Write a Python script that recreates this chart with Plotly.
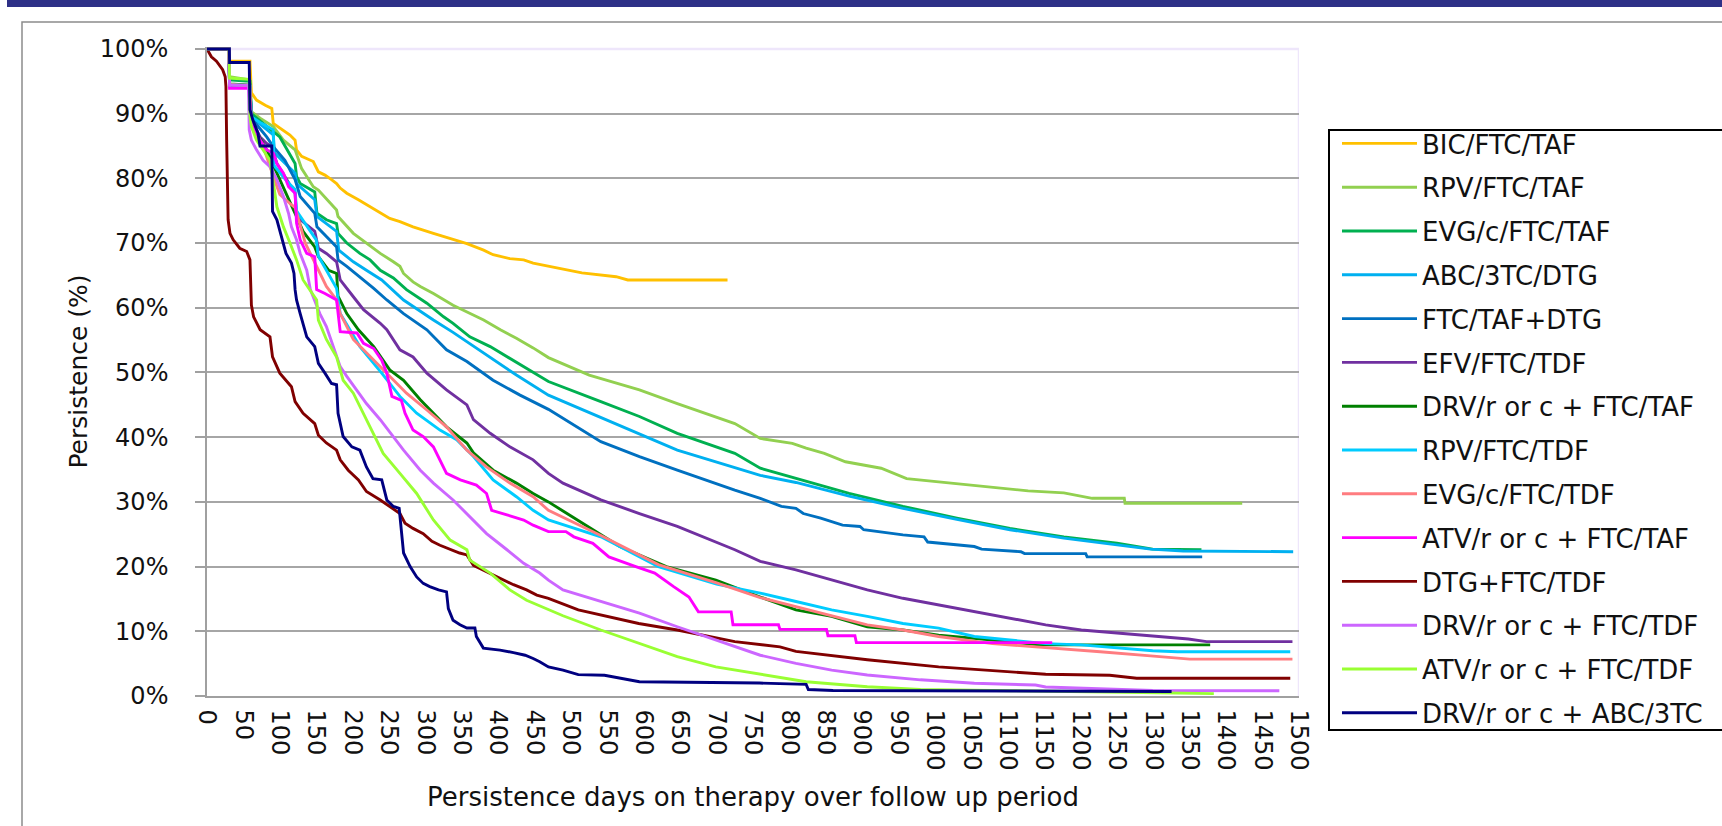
import plotly.graph_objects as go

# ---------------- data (day, persistence %) ----------------
series_names = [
    "BIC/FTC/TAF", "RPV/FTC/TAF", "EVG/c/FTC/TAF", "ABC/3TC/DTG", "FTC/TAF+DTG",
    "EFV/FTC/TDF", "DRV/r or c + FTC/TAF", "RPV/FTC/TDF", "EVG/c/FTC/TDF",
    "ATV/r or c + FTC/TAF", "DTG+FTC/TDF", "DRV/r or c + FTC/TDF",
    "ATV/r or c + FTC/TDF", "DRV/r or c + ABC/3TC",
]

bic_ftc_taf = [(0,100),(30,100),(31,98.1),(59,98.1),(61,93.2),(68,92.1),(80,91.3),(89,90.8),(91,88.5),
    (103,87.5),(114,86.7),(121,85.9),(123,84.4),(130,83.4),(146,82.6),(153,81.0),(162,80.5),(171,79.8),
    (178,79.2),(183,78.5),(192,77.7),(208,76.7),(224,75.6),(240,74.6),(251,73.8),(265,73.3),(283,72.5),
    (311,71.5),(338,70.5),(357,69.9),(380,68.9),(393,68.2),(416,67.6),(435,67.4),(448,66.9),(471,66.4),
    (515,65.4),(562,64.8),(578,64.3),(715,64.3)]

rpv_ftc_taf = [(0,100),(30,100),(31,95.7),(59,95.2),(61,90.3),(73,89.3),(91,88.0),(105,85.9),(121,84.4),
    (130,81.5),(146,78.7),(153,78.2),(178,75.1),(180,74.1),(201,71.5),(219,70.0),(238,68.4),(256,67.1),
    (265,66.4),(270,65.3),(283,64.0),(293,63.3),(311,62.2),(338,60.4),(357,59.4),(380,58.1),(403,56.6),
    (425,55.3),(448,53.8),(469,52.3),(525,49.6),(594,47.3),(646,45.2),(725,42.1),(760,39.8),(804,39.05),
    (823,38.3),(848,37.5),(877,36.2),(926,35.2),(961,33.6),(1005,33.1),(1054,32.5),(1128,31.7),
    (1177,31.4),(1216,30.55),(1260,30.55),(1261,29.8),(1422,29.8)]

evg_ftc_taf = [(0,100),(30,100),(31,95.2),(59,95.0),(61,90.0),(82,88.0),(100,86.4),(121,82.3),(123,80.3),
    (128,79.2),(148,77.9),(151,74.6),(164,73.6),(178,73.0),(180,71.5),(192,70.0),(210,68.4),(224,67.4),
    (238,65.8),(256,64.6),(274,62.8),(302,60.7),(325,58.6),(338,57.6),(361,55.5),(389,54.0),(416,52.2),
    (439,50.7),(469,48.6),(541,45.5),(594,43.2),(646,40.6),(725,37.5),(760,35.2),(809,33.6),(882,31.3),
    (956,29.3),(1030,27.5),(1103,25.9),(1177,24.6),(1250,23.6),(1299,22.7),(1366,22.6)]

abc_3tc_dtg = [(0,100),(30,100),(31,94.5),(59,94.3),(61,89.5),(82,87.5),(91,86.7),(93,83.9),(121,80.8),
    (123,79.2),(148,76.7),(151,74.1),(178,71.8),(181,68.9),(201,67.1),(219,65.8),(240,64.3),(270,61.2),
    (311,58.1),(338,56.2),(380,53.0),(425,49.6),(469,46.5),(541,43.0),(646,38.0),(760,34.1),(809,33.0),
    (882,30.9),(956,29.0),(1030,27.3),(1103,25.7),(1177,24.4),(1250,23.3),(1296,22.7),(1341,22.4),
    (1492,22.3)]

ftc_taf_dtg = [(0,100),(30,100),(31,94.3),(59,94.1),(61,89.3),(82,86.4),(91,84.9),(107,82.8),(121,79.8),
    (128,77.2),(148,74.6),(151,72.5),(178,69.4),(180,67.4),(192,66.4),(210,64.8),(229,63.0),(247,61.2),
    (270,59.1),(302,56.6),(329,53.5),(357,51.7),(393,48.8),(430,46.5),(469,44.3),(541,39.3),(594,37.0),
    (646,34.9),(725,31.8),(760,30.55),(789,29.3),(809,29.0),(819,28.2),(843,27.5),(873,26.4),(897,26.2),
    (902,25.7),(956,24.9),(985,24.6),(990,23.8),(1054,23.1),(1064,22.7),(1118,22.3),(1123,22.0),
    (1207,22.0),(1209,21.5),(1367,21.5)]

efv_ftc_tdf = [(0,100),(30,100),(31,94.3),(59,94.1),(61,89.0),(73,86.4),(82,85.4),(89,84.9),(96,82.3),
    (109,79.8),(121,77.7),(123,74.1),(132,73.3),(148,71.8),(153,69.2),(164,68.4),(178,67.1),(183,64.3),
    (201,61.7),(215,59.7),(238,57.6),(247,56.6),(265,53.5),(283,52.4),(302,49.9),(329,47.3),(357,45.0),
    (366,42.7),(389,40.6),(416,38.5),(448,36.5),(469,34.4),(489,32.9),(541,30.3),(594,28.2),(646,26.2),
    (725,22.6),(760,20.8),(809,19.5),(858,17.9),(907,16.4),(956,15.1),(1005,14.1),(1054,13.0),
    (1103,12.0),(1152,11.0),(1201,10.2),(1250,9.7),(1299,9.2),(1348,8.8),(1373,8.4),(1491,8.4)]

drv_ftc_taf = [(0,100),(30,100),(31,94.6),(59,94.4),(61,88.5),(82,84.4),(96,80.8),(109,77.7),(123,74.1),
    (132,71.8),(148,69.4),(153,67.9),(167,65.8),(178,65.3),(180,61.8),(192,59.1),(208,56.6),(229,54.0),
    (251,50.4),(270,48.8),(293,45.8),(311,43.7),(329,41.6),(357,39.1),(366,37.6),(393,34.9),(425,32.9),
    (448,31.3),(469,30.0),(489,28.6),(567,23.1),(631,20.0),(699,17.9),(760,15.3),(809,13.3),(858,12.3),
    (907,10.7),(956,10.2),(1005,9.4),(1079,8.65),(1143,7.9),(1201,7.9),(1378,7.9)]

rpv_ftc_tdf = [(0,100),(30,100),(31,94.5),(59,94.3),(61,89.5),(75,88.5),(91,87.5),(92,82.0),(110,79.5),
    (121,78.3),(123,75.0),(150,70.5),(153,68.0),(165,65.5),(178,63.0),(183,59.1),(210,54.0),(240,49.9),
    (265,46.3),(288,43.7),(320,41.1),(343,39.6),(366,37.0),(393,33.4),(425,30.8),(448,28.7),(469,27.2),
    (541,24.6),(620,20.0),(700,17.3),(760,15.9),(809,14.6),(858,13.3),(907,12.3),(956,11.2),(1005,10.5),
    (1054,9.2),(1103,8.65),(1152,8.1),(1201,7.9),(1250,7.4),(1299,7.0),(1333,6.85),(1488,6.85)]

evg_ftc_tdf = [(0,100),(30,100),(31,94.5),(59,94.3),(61,88.0),(80,84.0),(92,80.0),(100,77.5),(115,76.0),
    (121,75.5),(135,70.0),(150,66.5),(164,63.3),(178,61.2),(183,59.1),(201,55.1),(229,51.9),(251,49.4),
    (274,46.8),(302,44.2),(329,41.6),(357,38.0),(384,35.4),(416,32.9),(448,30.8),(469,28.7),(541,24.8),
    (620,20.3),(700,17.5),(760,15.2),(809,13.8),(858,12.3),(907,11.0),(956,10.2),(1005,9.2),(1079,8.1),
    (1152,7.5),(1227,6.85),(1296,6.2),(1350,5.7),(1491,5.7)]

atv_ftc_taf = [(0,100),(30,100),(31,93.9),(57,93.9),(61,89.0),(73,85.9),(82,84.4),(91,83.9),(96,82.3),
    (105,80.8),(112,78.7),(121,77.7),(123,73.1),(128,70.5),(137,68.4),(148,67.9),(150.6,62.8),(162,62.2),
    (178,61.2),(180,59.1),(183,56.3),(206,56.1),(215,54.5),(229,53.7),(240,51.9),(247,49.9),(254,46.3),
    (267,45.7),(272,43.7),(283,41.1),(297,40.1),(311,38.5),(320,36.5),(329,34.4),(348,33.4),(370,32.6),
    (384,31.3),(391,28.7),(412,28.0),(435,27.2),(448,26.4),(469,25.4),(493,25.4),(504,24.6),(530,23.6),
    (552,21.5),(589,20.0),(615,19.0),(641,16.9),(662,15.3),(675,13.0),(720,13.0),(722.5,11.0),(785,11.0),
    (787,10.3),(851,10.3),(853,9.3),(890,9.3),(892,8.25),(1161,8.25)]

dtg_ftc_tdf = [(0,100),(6,98.8),(13,98.1),(18,97.3),(21.5,96.8),(25,95.7),(26,94.2),(27,85.9),(29,73.6),
    (31.6,71.5),(36,70.5),(45,69.2),(54.5,68.7),(59,67.4),(60,62.8),(61,60.4),(64,58.6),(73,56.6),
    (86.5,55.5),(90,52.4),(100,49.9),(116,47.8),(121,45.5),(132,43.7),(148,42.1),(153,40.3),(164,39.1),
    (178,38.0),(183,36.5),(194,34.9),(208,33.4),(219,31.6),(238,30.3),(251,29.3),(265,28.2),(272,26.7),
    (283,25.9),(297,25.1),(309,23.9),(320,23.3),(331,22.8),(347,22.1),(357,21.8),(366,20.2),(384,19.2),
    (402,18.2),(421,17.2),(439,16.4),(453,15.6),(469,15.1),(510,13.3),(593,11.2),(646,10.2),(725,8.4),
    (787,7.6),(809,6.9),(907,5.6),(1005,4.5),(1103,3.75),(1152,3.35),(1240,3.2),(1259,3.0),(1277,2.75),
    (1488,2.75)]

drv_ftc_tdf = [(0,100),(30,100),(31,94.4),(57,94.4),(58,87.5),(61,85.9),(68,84.4),(77,82.8),(86.5,81.8),
    (96,79.8),(105,77.2),(112,74.6),(116,72.5),(123,70.5),(128,68.4),(137,65.8),(142,62.8),(155,59.1),
    (164,57.1),(173.5,54.0),(183,50.9),(192,49.4),(206,47.3),(219,45.2),(238,42.7),(256,40.1),(270,38.0),
    (293,34.9),(311,32.9),(338,30.3),(357,28.2),(384,25.1),(412,22.6),(435,20.5),(457,19.0),(469,17.9),
    (489,16.4),(541,14.6),(594,12.8),(646,10.7),(725,7.6),(760,6.3),(809,5.05),(858,4.0),(907,3.25),
    (980,2.5),(1054,1.96),(1138,1.7),(1152,1.4),(1226,1.1),(1299,0.85),(1473,0.82)]

atv_ftc_tdf = [(0,100),(30,100),(31,95.5),(58,95.3),(59,89.5),(61,88.0),(68,85.9),(80,83.9),(86.5,82.8),
    (96,75.6),(105,72.5),(114,70.0),(123,67.4),(132,64.3),(141.5,62.8),(150.6,61.2),(153,58.1),(164,55.1),
    (178,52.4),(187,48.8),(201,46.8),(215,43.7),(228.5,40.6),(242,37.5),(265,34.4),(288,31.3),(311,27.2),
    (334,24.1),(357,22.6),(361,21.0),(389,19.0),(416,16.4),(439,14.8),(469,13.3),(489,12.4),(541,10.2),
    (594,8.1),(646,6.1),(699,4.5),(760,3.4),(823,2.2),(907,1.44),(980,1.03),(1103,0.82),(1324,0.41),
    (1383,0.36)]

drv_abc_3tc = [(0,100),(30.7,100),(31,97.9),(58,97.9),(59,90.6),(63,89.0),(70,87.0),(72.8,85.0),(89,85.0),
    (90,74.9),(96,73.6),(103,70.5),(108.5,68.4),(116,66.9),(119.5,65.3),(121,62.8),(123,61.2),(128,59.1),
    (137,55.5),(148,54.0),(153,51.4),(162,49.9),(171,48.3),(178,48.1),(180,43.7),(187,40.1),(199,38.5),
    (210,38.0),(219,35.4),(228,33.6),(240,33.4),(247,30.3),(256,29.3),(264,29.0),(267,25.1),(270,22.1),
    (279,20.0),(288,18.4),(297,17.4),(306,16.9),(318,16.4),(329,16.1),(331.5,13.5),(338,11.7),
    (347.5,11.0),(357,10.5),(368,10.5),(370,9.2),(379.6,7.4),(402.5,7.1),(421,6.7),(437,6.3),(448,5.8),
    (457,5.3),(469,4.5),(489,4.0),(510,3.3),(546,3.2),(594,2.2),(759,2.0),(823,1.8),(826,1.0),(860,0.85),
    (1325,0.7)]

series_points = [bic_ftc_taf, rpv_ftc_taf, evg_ftc_taf, abc_3tc_dtg, ftc_taf_dtg, efv_ftc_tdf,
                 drv_ftc_taf, rpv_ftc_tdf, evg_ftc_tdf, atv_ftc_taf, dtg_ftc_tdf, drv_ftc_tdf,
                 atv_ftc_tdf, drv_abc_3tc]

x_tick_values = list(range(0, 1501, 50))
y_tick_values = list(range(0, 101, 10))

# ---------------- styles ----------------
colors = ["#FFC000", "#92D050", "#00B050", "#00B0F0", "#0070C0", "#7030A0", "#008000",
          "#00CCFF", "#FF7C80", "#FF00FF", "#800000", "#CC66FF", "#99FF33", "#000080"]

FONT = "DejaVu Sans"
TICK_FS = 24
TEXT_FS = 26
YTITLE_FS = 25
TXT = "#111111"
AXIS_GRAY = "#A0A0A0"

fig = go.Figure()
for i, (name, pts, col) in enumerate(zip(series_names, series_points, colors)):
    xs = [p[0] for p in pts]
    ys = [p[1] for p in pts]
    fig.add_trace(go.Scatter(
        x=xs, y=ys, mode="lines", name=name, legendgroup=f"g{i}",
        line=dict(color=col, width=2.9), hoverinfo="skip"))

# plot area geometry (pixels)
W, H = 1722, 826
L, R, T, B = 207, 1299, 47, 696   # plot left, right, top(for 100.3), bottom
YMAX = 100.3

def px_x(X):
    return (X - L) / (R - L)

def px_y(Y):
    return (B - Y) / (B - T)

LEG_ITEMW = 75

fig.update_layout(
    width=W, height=H, autosize=False,
    margin=dict(l=L, r=W - R, t=T, b=H - B, pad=0),
    paper_bgcolor="white", plot_bgcolor="white",
    font=dict(family=FONT, size=TICK_FS, color=TXT),
    showlegend=True,
    legend=dict(
        x=px_x(1422 - LEG_ITEMW - 10), y=px_y(120), xanchor="left", yanchor="top",
        bgcolor="rgba(0,0,0,0)", borderwidth=0, itemwidth=LEG_ITEMW,
        font=dict(family=FONT, size=TEXT_FS, color=TXT),
        tracegroupgap=7, traceorder="grouped",
    ),
    xaxis=dict(
        range=[0, 1500], tickmode="array", tickvals=x_tick_values,
        ticktext=[str(v) for v in x_tick_values], tickangle=90, ticks="",
        tickfont=dict(family=FONT, size=TICK_FS, color=TXT),
        showgrid=False, zeroline=False, showline=True, linecolor=AXIS_GRAY, linewidth=1.5,
        ticklabelstandoff=7,
        title=dict(text="Persistence days on therapy over follow up period",
                   font=dict(family=FONT, size=TEXT_FS, color=TXT), standoff=18),
    ),
    xaxis2=dict(
        overlaying="x", anchor="y", side="bottom", range=[0, 1500],
        tickmode="linear", tick0=0, dtick=30, ticks="outside", ticklen=8,
        tickwidth=1.5, tickcolor=AXIS_GRAY, showticklabels=False,
        showgrid=False, zeroline=False, showline=False,
    ),
    yaxis=dict(
        range=[0, YMAX], tickmode="array", tickvals=y_tick_values,
        ticktext=[f"{v}%" for v in y_tick_values],
        tickfont=dict(family=FONT, size=TICK_FS, color=TXT),
        ticks="outside", ticklen=10, tickwidth=1.5, tickcolor=AXIS_GRAY,
        showgrid=True, gridcolor="#A6A6A6", gridwidth=1.5,
        zeroline=False, showline=True, linecolor=AXIS_GRAY, linewidth=1.5,
        ticklabelstandoff=22,
        title=dict(text="Persistence (%)", font=dict(family=FONT, size=YTITLE_FS, color=TXT),
                   standoff=5),
    ),
    shapes=[
        # header band
        dict(type="rect", xref="paper", yref="paper", x0=px_x(7), x1=px_x(1760),
             y0=px_y(7), y1=px_y(-10), fillcolor="#2E3087", line=dict(width=0), layer="above"),
        # chart frame
        dict(type="rect", xref="paper", yref="paper", x0=px_x(22), x1=px_x(1780),
             y0=px_y(880), y1=px_y(22), line=dict(color="#8C8C8C", width=1.5),
             fillcolor="rgba(0,0,0,0)", layer="below"),
        # plot area top / right border (light lavender)
        dict(type="line", xref="x", yref="y", x0=0, x1=1500, y0=100, y1=100,
             line=dict(color="#EEE6FB", width=2.5), layer="between"),
        dict(type="line", xref="x", yref="paper", x0=1500, x1=1500, y0=0, y1=px_y(49),
             line=dict(color="#EEE6FB", width=2.5), layer="between"),
        # legend box
        dict(type="rect", xref="paper", yref="paper", x0=px_x(1329), x1=px_x(1780),
             y0=px_y(730), y1=px_y(130), line=dict(color="#000000", width=2),
             fillcolor="white", layer="below"),
    ],
)

fig.write_html("out.html", config={"displayModeBar": False},
               post_script="document.body.style.margin='0';document.body.style.overflow='hidden';")
